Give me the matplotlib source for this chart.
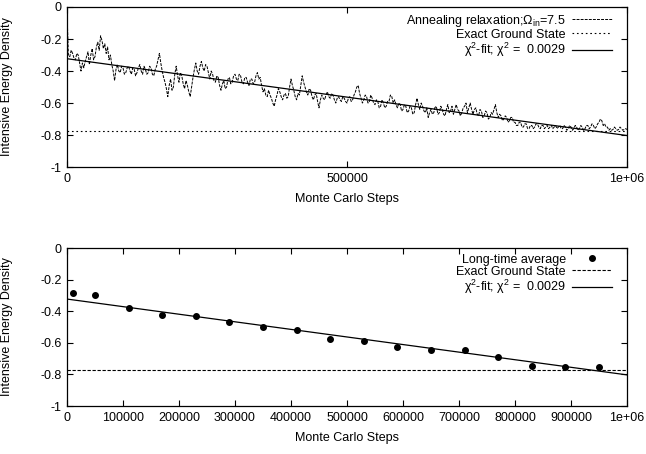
"""
Annealing relaxation vs. long-time averages, with chi^2 fit and exact ground state.
"""
import numpy as np
import matplotlib
matplotlib.use('Agg')
import matplotlib.pyplot as plt

plt.rcParams['font.family'] = ['Liberation Sans', 'DejaVu Sans']
plt.rcParams['font.size'] = 9
plt.rcParams['axes.unicode_minus'] = False
plt.rcParams['mathtext.fontset'] = 'custom'
plt.rcParams['mathtext.rm'] = 'Liberation Sans'
plt.rcParams['mathtext.it'] = 'Liberation Sans:italic'

# Annealing relaxation, read every 2500 Monte Carlo steps
anneal_step = 2500
anneal_energy = [
    -0.03, -0.30, -0.31, -0.27, -0.29, -0.32, -0.33, -0.29, -0.30, -0.35,
    -0.40, -0.35, -0.38, -0.34, -0.31, -0.28, -0.36, -0.30, -0.26, -0.33,
    -0.31, -0.25, -0.22, -0.27, -0.18, -0.21, -0.26, -0.23, -0.29, -0.25,
    -0.33, -0.30, -0.36, -0.40, -0.46, -0.39, -0.36, -0.40, -0.41, -0.37,
    -0.38, -0.42, -0.41, -0.38, -0.37, -0.40, -0.42, -0.38, -0.39, -0.43,
    -0.41, -0.38, -0.36, -0.40, -0.42, -0.37, -0.39, -0.42, -0.41, -0.37,
    -0.38, -0.42, -0.43, -0.39, -0.37, -0.33, -0.29, -0.35, -0.40, -0.44,
    -0.47, -0.51, -0.56, -0.49, -0.45, -0.52, -0.50, -0.42, -0.37, -0.43,
    -0.47, -0.41, -0.43, -0.48, -0.51, -0.46, -0.49, -0.53, -0.56, -0.50,
    -0.44, -0.39, -0.35, -0.40, -0.42, -0.37, -0.34, -0.38, -0.40, -0.36,
    -0.37, -0.41, -0.45, -0.40, -0.42, -0.46, -0.47, -0.43, -0.44, -0.49,
    -0.52, -0.48, -0.46, -0.51, -0.50, -0.45, -0.44, -0.48, -0.47, -0.43,
    -0.42, -0.45, -0.46, -0.42, -0.43, -0.47, -0.48, -0.44, -0.44, -0.47,
    -0.49, -0.45, -0.45, -0.48, -0.47, -0.43, -0.41, -0.45, -0.44, -0.49,
    -0.53, -0.51, -0.55, -0.56, -0.52, -0.55, -0.57, -0.60, -0.62, -0.58,
    -0.55, -0.51, -0.53, -0.56, -0.58, -0.55, -0.54, -0.57, -0.56, -0.50,
    -0.45, -0.49, -0.52, -0.56, -0.58, -0.54, -0.55, -0.49, -0.43, -0.47,
    -0.50, -0.53, -0.55, -0.51, -0.52, -0.56, -0.58, -0.55, -0.54, -0.59,
    -0.63, -0.58, -0.55, -0.57, -0.58, -0.55, -0.53, -0.56, -0.57, -0.54,
    -0.55, -0.58, -0.60, -0.57, -0.56, -0.58, -0.59, -0.56, -0.57, -0.59,
    -0.60, -0.57, -0.56, -0.59, -0.58, -0.55, -0.53, -0.50, -0.49, -0.54,
    -0.57, -0.60, -0.58, -0.55, -0.56, -0.60, -0.59, -0.55, -0.57, -0.60,
    -0.61, -0.58, -0.59, -0.63, -0.62, -0.58, -0.60, -0.63, -0.62, -0.59,
    -0.59, -0.55, -0.56, -0.60, -0.58, -0.61, -0.63, -0.60, -0.61, -0.65,
    -0.64, -0.61, -0.62, -0.66, -0.65, -0.62, -0.63, -0.67, -0.66, -0.61,
    -0.57, -0.61, -0.64, -0.60, -0.62, -0.65, -0.66, -0.63, -0.69, -0.66,
    -0.64, -0.67, -0.66, -0.62, -0.63, -0.67, -0.66, -0.62, -0.64, -0.67,
    -0.68, -0.64, -0.61, -0.66, -0.65, -0.62, -0.67, -0.64, -0.61, -0.64,
    -0.65, -0.68, -0.66, -0.63, -0.62, -0.60, -0.66, -0.63, -0.60, -0.64,
    -0.67, -0.64, -0.63, -0.67, -0.68, -0.64, -0.65, -0.69, -0.68, -0.65,
    -0.66, -0.70, -0.69, -0.66, -0.67, -0.64, -0.61, -0.66, -0.69, -0.67,
    -0.68, -0.71, -0.70, -0.68, -0.69, -0.72, -0.71, -0.69, -0.69, -0.72,
    -0.72, -0.74, -0.74, -0.72, -0.72, -0.75, -0.75, -0.73, -0.73, -0.76,
    -0.76, -0.74, -0.74, -0.76, -0.75, -0.73, -0.73, -0.75, -0.76, -0.74,
    -0.74, -0.76, -0.75, -0.74, -0.76, -0.75, -0.74, -0.76, -0.75, -0.74,
    -0.76, -0.75, -0.74, -0.76, -0.76, -0.74, -0.75, -0.77, -0.76, -0.74,
    -0.75, -0.77, -0.76, -0.74, -0.75, -0.77, -0.76, -0.74, -0.75, -0.77,
    -0.76, -0.74, -0.74, -0.76, -0.75, -0.73, -0.74, -0.76, -0.75, -0.73,
    -0.72, -0.70, -0.71, -0.74, -0.73, -0.75, -0.75, -0.77, -0.76, -0.77,
    -0.765, -0.75, -0.76, -0.77, -0.765, -0.75, -0.76, -0.77, -0.765, -0.76,
    -0.765,
]

# Long-time averages
avg_steps = [10000, 50000, 110000, 170000, 230000, 290000, 350000, 410000,
             470000, 530000, 590000, 650000, 710000, 770000, 830000, 890000,
             950000]
avg_energy = [-0.285, -0.295, -0.38, -0.425, -0.43, -0.47, -0.50, -0.517,
              -0.575, -0.587, -0.627, -0.643, -0.648, -0.69, -0.745, -0.753,
              -0.753]

ground_state = -0.772
fit_intercept = -0.323
fit_slope = -4.8e-7
fit_range = [0, 1e6]

y_ticks = [0, -0.2, -0.4, -0.6, -0.8, -1]
y_ticklabels = ['0', '-0.2', '-0.4', '-0.6', '-0.8', '-1']
top_xticks = [0, 500000, 1000000]
top_xticklabels = ['0', '500000', '1e+06']
bottom_xticks = [0, 100000, 200000, 300000, 400000, 500000, 600000, 700000,
                 800000, 900000, 1000000]
bottom_xticklabels = ['0', '100000', '200000', '300000', '400000', '500000',
                      '600000', '700000', '800000', '900000', '1e+06']

fit_label = r'χ$^2$-fit; χ$^2$ =  0.0029'


def style_axes(ax, xticks, xticklabels):
    ax.set_xlim(0, 1e6)
    ax.set_ylim(-1, 0)
    ax.set_xticks(xticks)
    ax.set_xticklabels(xticklabels)
    ax.set_yticks(y_ticks)
    ax.set_yticklabels(y_ticklabels)
    ax.tick_params(direction='in', length=4, width=0.8, top=True, right=True,
                   pad=4, labelsize=9)
    for s in ax.spines.values():
        s.set_linewidth(0.9)
    ax.set_xlabel('Monte Carlo Steps', fontsize=9)
    ax.set_ylabel('Intensive Energy Density', fontsize=9)
    ax.yaxis.set_label_coords(-0.096, 0.5)
    ax.xaxis.set_label_coords(0.5, -0.165)


def add_legend(ax):
    ax.legend(loc='upper right', bbox_to_anchor=(0.978, 0.98),
              frameon=False, markerfirst=False, handlelength=3.2,
              handletextpad=0.5, labelspacing=0.0, borderaxespad=0.0,
              borderpad=0.2, fontsize=9)


fig = plt.figure(figsize=(6.46, 4.54), dpi=100)
ax1 = fig.add_axes([0.1037, 0.632, 0.8669, 0.3526])
ax2 = fig.add_axes([0.1037, 0.1057, 0.8669, 0.348])

fit_x = np.array(fit_range)
fit_y = fit_intercept + fit_slope * fit_x

# Top panel
anneal_x = np.arange(len(anneal_energy)) * anneal_step
ax1.plot(anneal_x, anneal_energy, color='black', lw=0.7,
         linestyle=(0, (3, 1.2)),
         label=r'Annealing relaxation;Ω$_{\rm in}$=7.5')
ax1.axhline(ground_state, color='black', lw=0.8, linestyle=(0, (1.5, 2.5)),
            label='Exact Ground State')
ax1.plot(fit_x, fit_y, color='black', lw=0.9, label=fit_label)
style_axes(ax1, top_xticks, top_xticklabels)
add_legend(ax1)

# Bottom panel
ax2.plot(avg_steps, avg_energy, 'o', color='black', markersize=4,
         label='Long-time average')
ax2.axhline(ground_state, color='black', lw=0.8, linestyle=(0, (3, 1.5)),
            label='Exact Ground State')
ax2.plot(fit_x, fit_y, color='black', lw=0.9, label=fit_label)
style_axes(ax2, bottom_xticks, bottom_xticklabels)
add_legend(ax2)

fig.savefig('out.png', dpi=100)
